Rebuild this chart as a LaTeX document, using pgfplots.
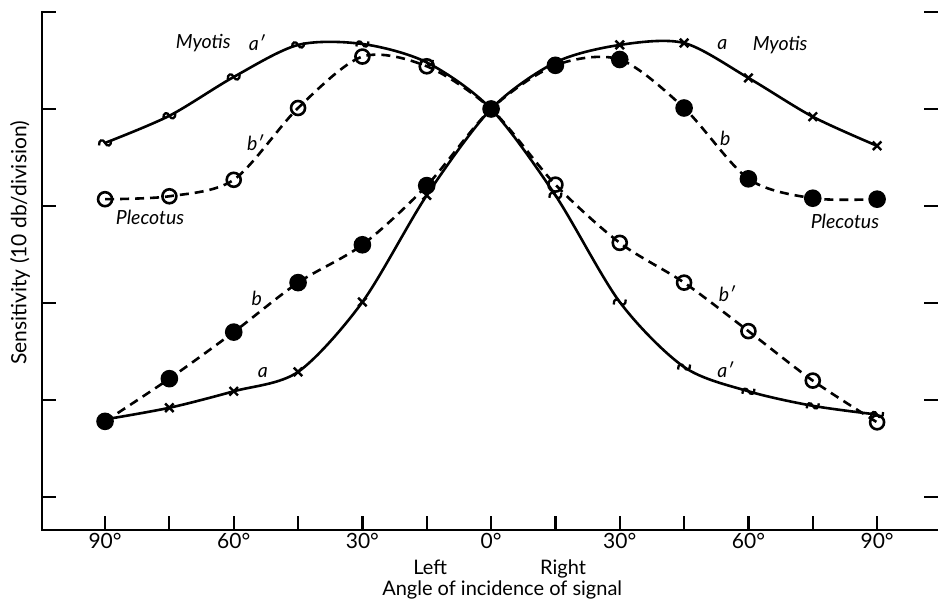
\documentclass[border=0pt]{standalone}
\usepackage{pgfplots}
\pgfplotsset{compat=1.18}
\usepackage{fontspec}
\setmainfont{Lato}

% small wavy mark used for the a' curve
\pgfdeclareplotmark{wave}{%
  \pgfpathmoveto{\pgfpoint{-6bp}{-2.5bp}}%
  \pgfpathcurveto{\pgfpoint{-6.5bp}{3bp}}{\pgfpoint{-2bp}{4.5bp}}{\pgfpoint{0bp}{0bp}}%
  \pgfpathcurveto{\pgfpoint{2bp}{-4.5bp}}{\pgfpoint{6.5bp}{-3bp}}{\pgfpoint{6bp}{2.5bp}}%
  \pgfusepathqstroke}

\begin{document}
\begin{tikzpicture}[font=\fontsize{21bp}{25bp}\selectfont]
\begin{axis}[
    scale only axis,
    width=896bp, height=519bp,
    xmin=-104.7, xmax=104.2,
    ymin=0.66, ymax=6.01,
    separate axis lines,
    axis line style={draw=none},
    xtick={-90,-75,...,90},
    xticklabels={90°,,60°,,30°,,0°,,30°,,60°,,90°},
    ytick={1,2,3,4,5,6},
    yticklabels={},
    xtick pos=lower, ytick pos=both,
    tick align=inside,
    major tick length=14bp,
    tick style={line width=2.2bp, black},
    clip=false,
    every axis plot/.append style={line width=2.6bp, black},
    ]
\coordinate (BL) at (rel axis cs:0,0);
\coordinate (TR) at (rel axis cs:1,1);
\draw[line width=2.4bp] (rel axis cs:0,1) -- (rel axis cs:0,0) -- (rel axis cs:1,0);

% a' : Myotis, left ear
\addplot[smooth, mark=wave, mark options={line width=2.3bp}] coordinates {
  (-90,4.65) (-75,4.93) (-60,5.33) (-45,5.66) (-30,5.67) (-15,5.48) (0,5.0)
  (15,4.11) (30,3.01) (45,2.34) (60,2.09) (75,1.94) (90,1.85)};
% a : Myotis, right ear
\addplot[smooth, mark=x, mark size=6bp, mark options={line width=2.4bp}] coordinates {
  (-90,1.80) (-75,1.92) (-60,2.09) (-45,2.29) (-30,3.01) (-15,4.11) (0,5.0)
  (15,5.48) (30,5.66) (45,5.68) (60,5.32) (75,4.92) (90,4.62)};
% b' : Plecotus, left ear
\addplot[smooth, dash pattern=on 9bp off 6bp, mark=o, mark size=7bp,
  mark options={solid, fill=white}] coordinates {
  (-90,4.07) (-75,4.10) (-60,4.27) (-45,5.01) (-30,5.54) (-15,5.44) (0,5.0)
  (15,4.22) (30,3.62) (45,3.21) (60,2.71) (75,2.20) (90,1.77)};
% b : Plecotus, right ear
\addplot[smooth, dash pattern=on 9bp off 6bp, mark=*, mark size=7.5bp,
  mark options={solid}] coordinates {
  (-90,1.78) (-75,2.22) (-60,2.70) (-45,3.21) (-30,3.60) (-15,4.21) (0,5.0)
  (15,5.45) (30,5.51) (45,5.01) (60,4.28) (75,4.08) (90,4.07)};

\begin{scope}[font=\fontsize{19.5bp}{23bp}\selectfont\itshape]
\node at (axis cs:-67.1,5.68) {Myotis};
\node at (axis cs:-54.6,5.68) {a′};
\node at (axis cs:-55.0,4.65) {b′};
\node at (axis cs:-79.5,3.88) {Plecotus};
\node at (axis cs:-54.6,3.05) {b};
\node at (axis cs:-53.2,2.28) {a};
\node at (axis cs:53.9,5.66) {a};
\node at (axis cs:67.4,5.66) {Myotis};
\node at (axis cs:54.6,4.70) {b};
\node at (axis cs:82.5,3.84) {Plecotus};
\node at (axis cs:55.0,3.10) {b′};
\node at (axis cs:54.6,2.31) {a′};
\end{scope}
\begin{scope}[font=\fontsize{20bp}{24bp}\selectfont]
\node[inner sep=0pt, anchor=base] at (axis cs:-14.2,0.206) {Left};
\node[inner sep=0pt, anchor=base] at (axis cs:16.8,0.206) {Right};
\node[inner sep=0pt, anchor=base] at (axis cs:2.6,-0.010) {Angle of incidence of signal};
\end{scope}
\node[rotate=90] at (axis cs:-109.8,3.62) {Sensitivity (10 db/division)};
\end{axis}
\pgfresetboundingbox
\path ([xshift=-42bp,yshift=-71bp]BL) rectangle ([yshift=11bp]TR);
\end{tikzpicture}
\end{document}
